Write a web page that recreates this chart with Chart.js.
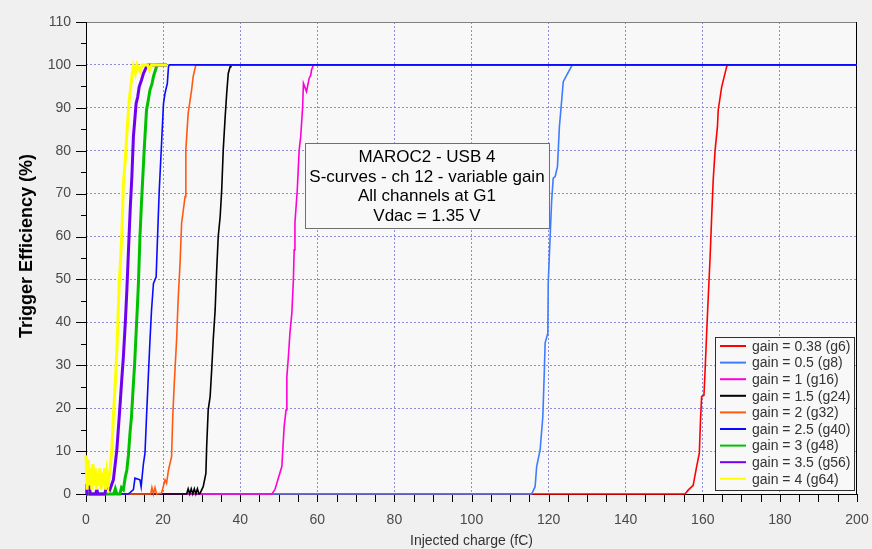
<!DOCTYPE html>
<html>
<head>
<meta charset="utf-8">
<script src="https://cdn.jsdelivr.net/npm/chart.js@4.4.1/dist/chart.umd.min.js"></script>
<style>
    html, body { margin: 0; padding: 0; background: #f0f0f0; }
    #wrap { width: 872px; height: 549px; }
</style>
</head>
<body>
<div id="wrap"><canvas id="scurves" width="872" height="549"></canvas></div>
<script>
// S-curves, [injected charge fC, trigger efficiency %]
const g6 = [[0, 0], [155.4, 0], [156.2, 0.9], [157.5, 2], [158.4, 6.4], [159.1, 9.5], [159.4, 17.2], [159.7, 22.7],
    [160.3, 23], [160.6, 28.9], [161, 37.5], [161.3, 43.7], [161.9, 55.3], [162.3, 64.6], [162.7, 73.2], [163.2, 80.2],
    [163.8, 85.6], [164, 89.5], [164.9, 94.9], [166.2, 99.6], [166.5, 100], [200, 100]];
const g8 = [[0, 0], [115.6, 0], [116.5, 1.7], [116.9, 6.4], [117.8, 10.3], [118.5, 18], [118.9, 28.9], [119.1, 35.2],
    [119.8, 37.5], [119.9, 49], [120.4, 60], [120.8, 68.5], [121.2, 73.6], [121.7, 74], [122.3, 76.3], [122.8, 85.6],
    [123.4, 91.8], [123.8, 96.1], [124.7, 97.6], [126, 99.8], [126.3, 100], [200, 100]];
const g16 = [[0, 0], [48.2, 0], [49, 1], [49.5, 2.5], [50.8, 6.4], [51.4, 15.7], [51.9, 19.6], [52.1, 27.3], [52.5, 32],
    [52.9, 37.5], [53.4, 42.2], [53.8, 49.9], [54, 56.9], [54.2, 63.2], [54.5, 67], [54.8, 70.8], [55.3, 80.2],
    [55.7, 83.3], [56.2, 90.3], [56.4, 95.7], [57.2, 93.8], [57.9, 96.9], [58.3, 97.6], [58.5, 98.8], [59, 100], [200, 100]];
const g24 = [[0, 0], [26.1, 0], [26.5, 1.2], [26.9, 0], [27.3, 1.2], [27.7, 0], [28.1, 1.2], [28.5, 0], [28.9, 1.2],
    [29.3, 0], [29.6, 0.2], [30.4, 1.7], [31.1, 4.8], [31.3, 11], [31.7, 19.6], [32.2, 22.7], [32.6, 28.9], [33, 35.9],
    [33.5, 42.9], [33.9, 52.2], [34.3, 60], [34.8, 64.6], [35.2, 70.8], [35.6, 80.2], [36.1, 87.9], [36.5, 93.4],
    [36.9, 98], [37.4, 99.6], [37.6, 100], [200, 100]];
const g32 = [[0, 0], [16.8, 0], [17.1, 1.5], [17.5, 0], [17.9, 1.5], [18.3, 0], [19.6, 0.2], [20.5, 3.3], [20.9, 2.5],
    [21.4, 5.6], [22.2, 8.7], [22.5, 18], [22.9, 25.8], [23.5, 35.9], [23.9, 45.2], [24.4, 53.8], [24.8, 63.1],
    [25.7, 69.3], [25.9, 80.2], [26.5, 88.7], [27.4, 94.2], [27.8, 97.3], [28.5, 100], [200, 100]];
const g40 = [[0, 0], [11, 0], [12.3, 1], [12.7, 3.7], [14, 3.3], [14.3, 1.7], [14.9, 7.1], [15.3, 9.5], [15.7, 18],
    [16.2, 28.1], [16.6, 35.9], [17, 42.9], [17.5, 49.1], [18.2, 50.6], [18.5, 58.4], [19, 70.8], [19.6, 81.7],
    [20.1, 91], [20.5, 93.4], [21.1, 95.7], [21.4, 99.6], [21.6, 100], [200, 100]];
const g48 = [[0, 0], [7.2, 0], [7.6, 1.2], [8, 0], [8.8, 0], [9.2, 1.5], [9.7, 1], [10.2, 4], [10.6, 5.6], [11, 9],
    [11.4, 14.1], [11.8, 18], [12.3, 25.8], [12.6, 30], [13, 37.5], [13.4, 45], [13.6, 49.1], [14, 60], [14.4, 68],
    [14.8, 75], [15.1, 80.2], [15.7, 89.5], [16.2, 92], [16.6, 94.2], [17.1, 95.5], [17.5, 97.3], [18.3, 99.6],
    [18.5, 100], [21, 100]];
const g56 = [[0, 0], [0.2, 2], [0.9, 2], [1.1, 0], [2.5, 0], [2.8, 1], [3.1, 0], [4.9, 0], [5.2, 1.5], [5.7, 1.5],
    [6.2, 1], [7.1, 3.3], [8, 10.3], [8.8, 20.3], [9.3, 27], [9.7, 32], [10.2, 40], [10.6, 47.5], [11.2, 60.8],
    [11.5, 67], [11.9, 74], [12.3, 83.3], [13, 91], [13.4, 92.5], [13.8, 94.9], [14.4, 96.5], [14.9, 98], [15.7, 99.6],
    [16, 100], [21, 100]];
const g64 = [[0, 9], [0.3, 1], [0.6, 8], [0.9, 2], [1.2, 6], [1.5, 1], [1.8, 7], [2.1, 2], [2.4, 6], [2.7, 1], [3, 5],
    [3.3, 2], [3.6, 6], [3.9, 1], [4.2, 5], [4.5, 2], [4.8, 6], [5.1, 1], [5.4, 5], [5.8, 2.5], [6.3, 6], [6.7, 10.3],
    [7.1, 18], [7.6, 26], [8, 33.5], [8.3, 41], [8.6, 49.1], [9, 55], [9.3, 60.8], [9.7, 72.4], [10.2, 78], [10.6, 84],
    [11.2, 91.8], [11.5, 94], [11.9, 97.3], [12.3, 99.6], [12.8, 98], [13.2, 100], [14, 98.5], [14.6, 100], [16, 100],
    [16.5, 98.8], [17, 100], [21, 100]];

const seriesLabels = ['gain = 0.38 (g6)', 'gain = 0.5 (g8)', 'gain = 1 (g16)', 'gain = 1.5 (g24)', 'gain = 2 (g32)',
    'gain = 2.5 (g40)', 'gain = 3 (g48)', 'gain = 3.5 (g56)', 'gain = 4 (g64)'];
const seriesData = [g6, g8, g16, g24, g32, g40, g48, g56, g64];
const seriesColors = ['#ff0000', '#3f7cff', '#ff00d8', '#000000', '#ff5a10', '#0a0aff', '#00c000', '#7000f0', '#ffff00'];
const seriesWidths = [1.6, 1.6, 1.6, 1.6, 1.6, 1.6, 3, 3, 3];

const noteLines = ['MAROC2 - USB 4', 'S-curves - ch 12 - variable gain', 'All channels at G1', 'Vdac = 1.35 V'];

const xTickLabels = [0, 20, 40, 60, 80, 100, 120, 140, 160, 180, 200];
const yTickLabels = [0, 10, 20, 30, 40, 50, 60, 70, 80, 90, 100, 110];

const GRID = '#8c8cd8';
const FONT = '"Liberation Sans", Arial, sans-serif';

function line(ctx, x1, y1, x2, y2) {
    ctx.beginPath();
    ctx.moveTo(x1, y1);
    ctx.lineTo(x2, y2);
    ctx.stroke();
}

// plot background, axes, tick marks, titles, note box and legend box
const decor = {
    id: 'decor',
    beforeDraw(chart) {
        const { ctx, chartArea: a } = chart;
        ctx.save();
        ctx.fillStyle = '#f8f8f8';
        ctx.fillRect(a.left, a.top, a.right - a.left, a.bottom - a.top);
        ctx.restore();
    },
    beforeDatasetsDraw(chart) {
        const { ctx, chartArea: a } = chart;
        const xs = chart.scales.x, ys = chart.scales.y;
        ctx.save();
        ctx.lineWidth = 1;

        // frame
        ctx.strokeStyle = '#808080';
        line(ctx, a.left, a.top + 0.5, a.right, a.top + 0.5);
        ctx.strokeStyle = '#000';
        line(ctx, a.right - 0.5, a.top, a.right - 0.5, a.bottom);
        line(ctx, a.left + 0.5, a.top, a.left + 0.5, a.bottom + 1);
        line(ctx, a.left, a.bottom + 0.5, a.right, a.bottom + 0.5);

        // tick marks
        for (let v = 0; v <= 200; v += 5) {
            const px = Math.round(xs.getPixelForValue(v)) + 0.5;
            line(ctx, px, a.bottom, px, a.bottom + 8);
        }
        for (let v = 0; v <= 110; v += 5) {
            const py = Math.round(ys.getPixelForValue(v)) + 0.5;
            line(ctx, a.left - (v % 10 ? 5 : 10), py, a.left, py);
        }

        // axis titles
        ctx.fillStyle = '#333';
        ctx.font = '14px ' + FONT;
        ctx.textAlign = 'center';
        ctx.textBaseline = 'middle';
        ctx.fillText('Injected charge (fC)', (a.left + a.right) / 2, 541);
        ctx.translate(27, 246);
        ctx.rotate(-Math.PI / 2);
        ctx.fillStyle = '#000';
        ctx.font = 'bold 18px ' + FONT;
        ctx.fillText('Trigger Efficiency (%)', 0, 0);
        ctx.restore();
    },
    afterDatasetsDraw(chart) {
        const { ctx, chartArea: a } = chart;
        const xs = chart.scales.x, ys = chart.scales.y;
        ctx.save();
        ctx.lineWidth = 1;
        ctx.textAlign = 'center';
        ctx.textBaseline = 'middle';

        // note box
        const nx = xs.getPixelForValue(56.8), nw = 244;
        const ny = ys.getPixelForValue(81.7), nh = 85;
        ctx.fillStyle = '#f8f8f8';
        ctx.fillRect(nx, ny, nw, nh);
        ctx.strokeStyle = '#707070';
        ctx.strokeRect(Math.round(nx) + 0.5, Math.round(ny) + 0.5, nw, nh);
        ctx.fillStyle = '#000';
        ctx.font = '17px ' + FONT;
        noteLines.forEach((t, i) => ctx.fillText(t, nx + nw / 2, ny + 14 + i * 19.6));

        // legend box
        const lw = 139, lh = 153;
        const lx = a.right - 3 - lw, ly = a.bottom - 4 - lh;
        ctx.fillStyle = '#f8f8f8';
        ctx.fillRect(lx, ly, lw, lh);
        ctx.strokeStyle = '#303030';
        ctx.strokeRect(Math.round(lx) + 0.5, Math.round(ly) + 0.5, lw, lh);
        ctx.font = '14px ' + FONT;
        ctx.textAlign = 'left';
        seriesLabels.forEach((t, i) => {
            const y = ly + 9 + i * 16.6;
            ctx.strokeStyle = seriesColors[i];
            ctx.lineWidth = 2;
            line(ctx, lx + 5, y, lx + 31, y);
            ctx.fillStyle = '#333';
            ctx.fillText(t, lx + 37, y + 1);
        });
        ctx.restore();
    },
};

new Chart(document.getElementById('scurves'), {
    type: 'line',
    data: {
        datasets: seriesData.map((d, i) => ({
            label: seriesLabels[i],
            data: d.map(([x, y]) => ({ x, y })),
            borderColor: seriesColors[i],
            borderWidth: seriesWidths[i],
            pointRadius: 0,
            tension: 0,
            fill: false,
            clip: false,
            order: seriesData.length - i,
        })),
    },
    options: {
        responsive: false,
        animation: false,
        devicePixelRatio: 1,
        layout: { padding: { top: 22, right: 15, left: 0, bottom: 0 } },
        plugins: { legend: { display: false }, tooltip: { enabled: false } },
        scales: {
            x: {
                type: 'linear', min: 0, max: 200,
                afterFit: (s) => { s.height = 55; s.paddingLeft = 0; s.paddingRight = 0; },
                afterBuildTicks: (s) => { s.ticks = xTickLabels.map((v) => ({ value: v })); },
                ticks: { color: '#4a4a4a', font: { family: FONT, size: 14 }, padding: 18, maxRotation: 0 },
                grid: {
                    drawTicks: false,
                    color: (c) => (c.tick && c.tick.value > 0 && c.tick.value < 200 ? GRID : 'transparent'),
                },
                border: { display: false, dash: [2, 2] },
            },
            y: {
                type: 'linear', min: 0, max: 110,
                afterFit: (s) => { s.width = 86; s.paddingTop = 0; s.paddingBottom = 0; },
                afterBuildTicks: (s) => { s.ticks = yTickLabels.map((v) => ({ value: v })); },
                ticks: { color: '#4a4a4a', font: { family: FONT, size: 14 }, padding: 15 },
                grid: {
                    drawTicks: false,
                    color: (c) => (c.tick && c.tick.value > 0 && c.tick.value < 110 ? GRID : 'transparent'),
                },
                border: { display: false, dash: [2, 2] },
            },
        },
    },
    plugins: [decor],
});
</script>
</body>
</html>
